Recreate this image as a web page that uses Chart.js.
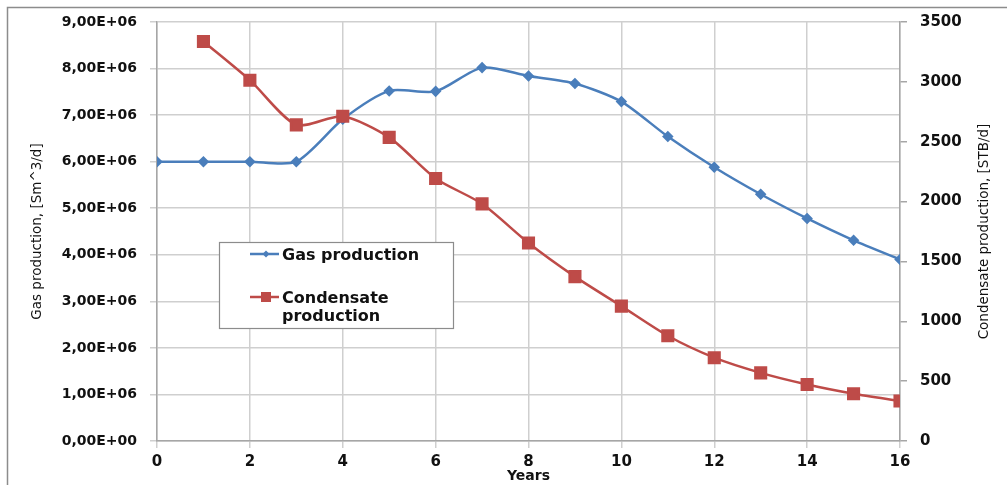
<!DOCTYPE html>
<html>
<head>
<meta charset="utf-8">
<script src="https://cdn.jsdelivr.net/npm/chart.js@4.4.1/dist/chart.umd.min.js"></script>
<style>
  body { margin: 0; background: #fff; }
  #wrap { width: 1007px; height: 485px; position: relative; }
</style>
</head>
<body>
<div id="wrap"><canvas id="line-chart"></canvas></div>
<script>
// values
const years = [0, 1, 2, 3, 4, 5, 6, 7, 8, 9, 10, 11, 12, 13, 14, 15, 16];
const gasProd = [6.00e6, 6.00e6, 6.00e6, 6.00e6, 6.91e6, 7.52e6, 7.51e6, 8.02e6, 7.84e6,
                 7.68e6, 7.29e6, 6.54e6, 5.88e6, 5.30e6, 4.78e6, 4.31e6, 3.90e6];
const condYears = [1, 2, 3, 4, 5, 6, 7, 8, 9, 10, 11, 12, 13, 14, 15, 16];
const condProd = [3337, 3014, 2641, 2713, 2536, 2193, 1981, 1654, 1373, 1127, 879, 696, 569, 472, 395, 334];

const gasLabel = 'Gas production';
const condLabel = ['Condensate', 'production'];
const leftTitle = 'Gas production, [Sm^3/d]';
const rightTitle = 'Condensate production, [STB/d]';
const xTitle = 'Years';

const BLUE = '#4a7ebb';
const RED = '#be4b48';
const GRID = '#cfcfcf';
const AXIS = '#a6a6a6';

function fmtE(v) {
  if (v === 0) return '0,00E+00';
  const e = Math.floor(Math.log10(v) + 1e-9);
  const m = v / Math.pow(10, e);
  return m.toFixed(2).replace('.', ',') + 'E+' + String(e).padStart(2, '0');
}

const extras = {
  id: 'extras',
  beforeDraw(chart) {
    const ctx = chart.ctx;
    ctx.save();
    ctx.strokeStyle = '#8c8c8c';
    ctx.lineWidth = 1.5;
    ctx.strokeRect(7.5, 7.5, 1200, 1200);
    ctx.restore();
  },
  afterDraw(chart) {
    const ctx = chart.ctx;
    const area = chart.chartArea;
    ctx.save();
    // right axis title, read bottom to top
    ctx.translate(984, (area.top + area.bottom) / 2);
    ctx.rotate(-Math.PI / 2);
    ctx.font = '13.5px "DejaVu Sans"';
    ctx.fillStyle = '#111';
    ctx.textAlign = 'center';
    ctx.textBaseline = 'middle';
    ctx.fillText(rightTitle, 0, 0);
    ctx.restore();

    // legend box
    ctx.save();
    ctx.fillStyle = '#fff';
    ctx.fillRect(219, 242, 234, 86);
    ctx.strokeStyle = '#8c8c8c';
    ctx.lineWidth = 1.2;
    ctx.strokeRect(219.5, 242.5, 234, 86);

    ctx.lineWidth = 2.5;
    ctx.strokeStyle = BLUE;
    ctx.beginPath(); ctx.moveTo(250, 254); ctx.lineTo(279, 254); ctx.stroke();
    ctx.fillStyle = BLUE;
    ctx.beginPath();
    ctx.moveTo(266, 250.5); ctx.lineTo(269.5, 254); ctx.lineTo(266, 257.5); ctx.lineTo(262.5, 254);
    ctx.closePath(); ctx.fill();

    ctx.strokeStyle = RED;
    ctx.beginPath(); ctx.moveTo(250, 297); ctx.lineTo(279, 297); ctx.stroke();
    ctx.fillStyle = RED;
    ctx.fillRect(261, 292, 10, 10);

    ctx.fillStyle = '#111';
    ctx.font = 'bold 16px "DejaVu Sans"';
    ctx.textAlign = 'left';
    ctx.textBaseline = 'alphabetic';
    ctx.fillText(gasLabel, 282, 260);
    ctx.fillText(condLabel[0], 282, 303);
    ctx.fillText(condLabel[1], 282, 321);
    ctx.restore();
  }
};

new Chart(document.getElementById('line-chart'), {
  type: 'line',
  data: {
    datasets: [{
      label: gasLabel,
      data: years.map((x, i) => ({ x: x, y: gasProd[i] })),
      yAxisID: 'y',
      borderColor: BLUE,
      backgroundColor: BLUE,
      borderWidth: 2.5,
      pointStyle: 'rectRot',
      pointRadius: 4,
      tension: 0.25,
      fill: false,
      order: 1
    }, {
      label: condLabel.join(' '),
      data: condYears.map((x, i) => ({ x: x, y: condProd[i] })),
      yAxisID: 'y1',
      borderColor: RED,
      backgroundColor: RED,
      borderWidth: 2.5,
      pointStyle: 'rect',
      pointRadius: 7.5,
      tension: 0.25,
      fill: false,
      order: 0
    }]
  },
  options: {
    responsive: true,
    maintainAspectRatio: false,
    animation: false,
    events: [],
    layout: { padding: { top: 19, left: 0, right: 0, bottom: 0 } },
    plugins: {
      legend: { display: false },
      tooltip: { enabled: false }
    },
    scales: {
      x: {
        type: 'linear',
        min: 0,
        max: 16,
        afterFit: s => { s.height = 44; },
        ticks: { stepSize: 2, color: '#111', padding: 5, font: { family: 'DejaVu Sans', size: 15, weight: 'bold' } },
        grid: { color: GRID, lineWidth: 1.5, tickLength: 7 },
        border: { color: AXIS, width: 1.5 },
        title: { display: true, text: xTitle, color: '#111', padding: { top: 0, bottom: 0 },
                 font: { family: 'DejaVu Sans', size: 14, weight: 'bold' } }
      },
      y: {
        position: 'left',
        min: 0,
        max: 9e6,
        afterFit: s => { s.width = 157; },
        ticks: { stepSize: 1e6, color: '#111', padding: 13, callback: v => fmtE(v),
                 font: { family: 'DejaVu Sans', size: 14, weight: 'bold' } },
        grid: { color: GRID, lineWidth: 1.5, tickLength: 7 },
        border: { color: AXIS, width: 1.5 },
        title: { display: true, text: leftTitle, color: '#111', padding: { top: 29, bottom: 0 },
                 font: { family: 'DejaVu Sans', size: 13.5 } }
      },
      y1: {
        position: 'right',
        min: 0,
        max: 3500,
        afterFit: s => { s.width = 107; },
        ticks: { stepSize: 500, color: '#111', padding: 13, callback: v => String(v),
                 font: { family: 'DejaVu Sans', size: 15, weight: 'bold' } },
        grid: { drawOnChartArea: false, color: AXIS, lineWidth: 1.5, tickLength: 7 },
        border: { color: AXIS, width: 1.5 }
      }
    }
  },
  plugins: [extras]
});
</script>
</body>
</html>
